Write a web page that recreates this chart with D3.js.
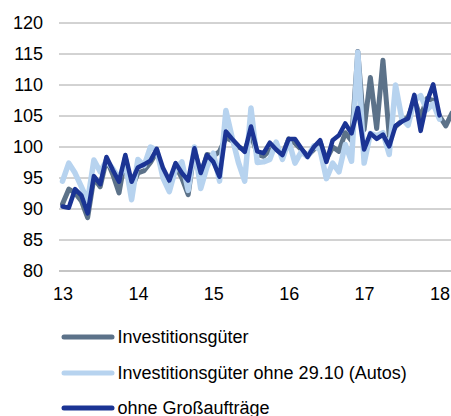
<!DOCTYPE html>
<html>
<head>
<meta charset="utf-8">
<script src="https://cdn.jsdelivr.net/npm/d3@7"></script>
<style>
  body { margin: 0; background: #fff; }
  text { font-family: "Liberation Sans", Arial, sans-serif; font-size: 18px; fill: #000; }
</style>
</head>
<body>
<script>
// monthly index values from Jan 2013
var investGueter = [
  90.8, 93.2, 92.6, 91.3, 88.6, 95.0, 93.6, 98.0, 95.6, 92.6, 98.3, 93.3,
  95.8, 96.2, 97.5, 99.2, 96.0, 94.0, 97.0, 95.0, 92.3, 99.5, 95.5, 98.8,
  98.5, 99.3, 101.5, 101.0, 100.0, 99.5, 102.0, 98.8, 98.5, 99.5, 99.8, 98.6,
  101.3, 100.6, 99.6, 98.6, 99.6, 100.8, 98.0, 100.0, 99.3, 102.3, 101.0, 115.4,
  102.8, 111.2, 103.0, 114.0, 101.8, 103.3, 104.2, 104.8, 107.5, 104.8, 107.8, 107.5,
  105.0, 103.4, 105.5
];
var ohneAutos = [
  94.5, 97.4, 95.8, 93.6, 91.3, 97.9, 96.0, 97.8, 96.5, 95.0, 97.5, 91.5,
  98.0, 97.0, 100.0, 99.5, 95.0, 92.8, 96.5, 97.6, 93.0, 100.0, 93.3, 96.8,
  99.0, 94.5, 105.9, 101.5, 97.5, 94.5, 106.3, 97.5, 97.6, 98.0, 100.8, 98.0,
  101.0, 97.4, 99.2, 98.4, 100.2, 99.5, 94.9, 97.4, 96.0, 100.4, 97.7, 115.3,
  97.4, 102.2, 101.8, 102.3, 98.8, 110.0, 104.6, 103.5, 107.5, 108.3, 106.0, 107.0,
  104.5
];
var ohneGross = [
  90.4, 90.2, 93.2, 92.2, 89.3, 95.3, 94.0, 98.4, 96.3, 94.4, 98.7, 94.4,
  96.7, 97.2, 97.8, 99.7, 96.6, 94.6, 97.4, 95.8, 94.6, 99.8, 95.8, 98.7,
  97.6, 95.2, 102.5, 101.3, 100.2, 99.2, 103.3, 99.3, 99.0, 100.7, 99.6, 98.7,
  101.3, 101.3, 99.8, 98.4, 100.0, 101.1, 97.6, 101.1, 101.9, 103.8, 102.2, 106.3,
  99.6, 102.2, 101.3, 102.0, 100.1, 103.4, 104.1, 104.6, 108.4, 102.6, 107.3, 110.1,
  105.1
];
var yearTicks = [13, 14, 15, 16, 17, 18];
var valueTicks = [80, 85, 90, 95, 100, 105, 110, 115, 120];
var seriesNames = ["Investitionsgüter", "Investitionsgüter ohne 29.10 (Autos)", "ohne Großaufträge"];

var w = 451;
var h = 416;
var svg = d3.select("body").append("svg")
    .attr("width", w)
    .attr("height", h);

var x = d3.scaleLinear().domain([13, 18]).range([62.5, 439.5]);
var y = d3.scaleLinear().domain([80, 120]).range([271, 23]);

// gridlines
svg.append("g")
    .selectAll("line")
    .data(valueTicks.filter(function(d) { return d > 80; }))
    .join("line")
    .attr("x1", 59)
    .attr("x2", w)
    .attr("y1", function(d) { return y(d); })
    .attr("y2", function(d) { return y(d); })
    .attr("stroke", "#a6a6a6")
    .attr("stroke-width", 1);

// y labels
svg.append("g")
    .selectAll("text")
    .data(valueTicks)
    .join("text")
    .attr("x", 43)
    .attr("y", function(d) { return y(d) + 6.3; })
    .attr("text-anchor", "end")
    .text(function(d) { return d; });

// x axis
var xAxis = svg.append("g")
    .attr("transform", "translate(0," + y(80) + ")")
    .call(d3.axisBottom(x).tickValues(yearTicks).tickSize(0).tickPadding(0).tickFormat(d3.format("d")));
xAxis.select(".domain").remove();
xAxis.selectAll("text")
    .attr("dy", null)
    .attr("y", 28.5)
    .attr("font-family", null)
    .attr("font-size", null);
svg.append("line")
    .attr("x1", 59).attr("x2", w)
    .attr("y1", y(80)).attr("y2", y(80))
    .attr("stroke", "#8c8c8c")
    .attr("stroke-width", 1.2);

var line = d3.line()
    .x(function(d, i) { return x(13 + i / 12); })
    .y(function(d) { return y(d); });

var series = [
  { values: investGueter, color: "#5c7289", width: 5 },
  { values: ohneAutos, color: "#b7d3ef", width: 5.5 },
  { values: ohneGross, color: "#1b3494", width: 4.5 }
];

svg.append("clipPath").attr("id", "plot")
  .append("rect").attr("x", 0).attr("y", 0).attr("width", w).attr("height", 290);

svg.append("g")
    .attr("clip-path", "url(#plot)")
    .selectAll("path")
    .data(series)
    .join("path")
    .attr("d", function(d) { return line(d.values); })
    .attr("fill", "none")
    .attr("stroke", function(d) { return d.color; })
    .attr("stroke-width", function(d) { return d.width; })
    .attr("stroke-linejoin", "round")
    .attr("stroke-linecap", "round");

// legend
var legendY = [337, 373, 408];
var legend = svg.append("g")
    .selectAll("g")
    .data(series)
    .join("g")
    .attr("transform", function(d, i) { return "translate(0," + legendY[i] + ")"; });
legend.append("line")
    .attr("x1", 64).attr("x2", 112)
    .attr("stroke", function(d) { return d.color; })
    .attr("stroke-width", 5)
    .attr("stroke-linecap", "round");
legend.append("text")
    .attr("x", 117.5)
    .attr("y", 6)
    .text(function(d, i) { return seriesNames[i]; });
</script>
</body>
</html>
